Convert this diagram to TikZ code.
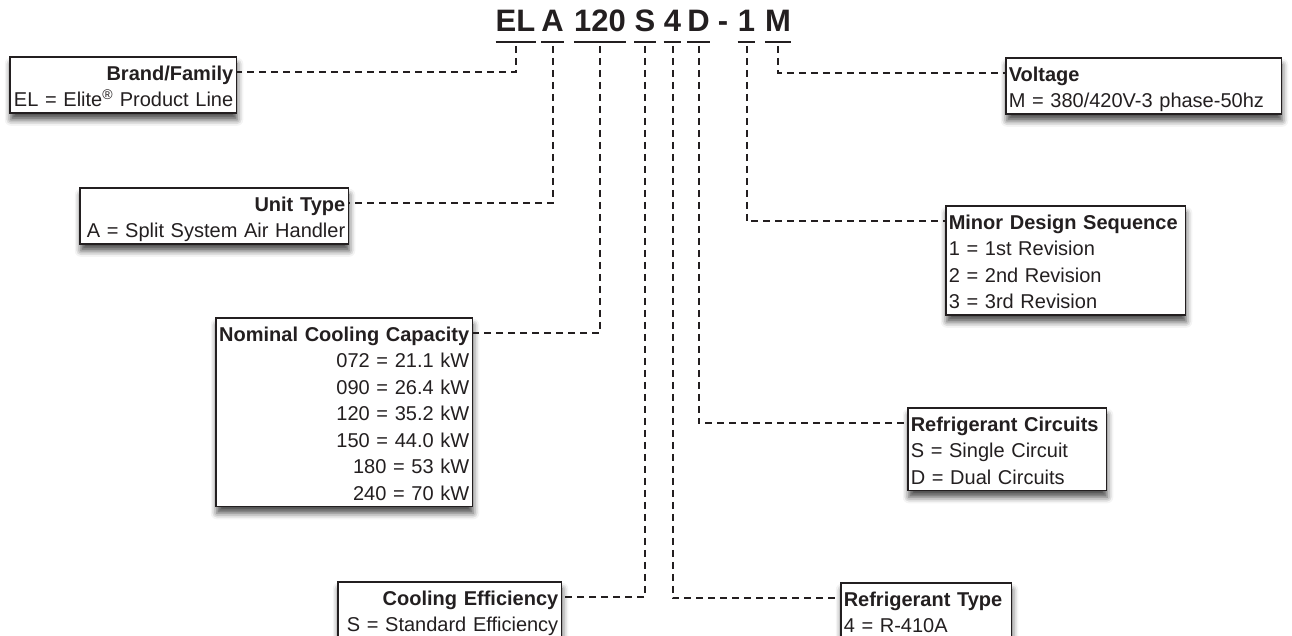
\documentclass[tikz,border=0pt]{standalone}
\usepackage{fontspec}
\setmainfont{Liberation Sans}
\usepackage{tikz}
\usetikzlibrary{positioning, calc, shadows.blur}

\definecolor{inkgray}{RGB}{35,31,32}

% strut for one line of a key box, and the bold title of a box
\newcommand{\ks}{\rule[-4.5pt]{0pt}{26.5pt}}
\newcommand{\kt}[1]{\ks\textbf{#1}}

\tikzset{
    keybox/.style={draw=inkgray, line width=1.5pt, fill=white, text=inkgray,
        inner xsep=3pt, inner ysep=1.5pt, anchor=north west,
        font=\fontsize{20}{26.5}\selectfont,
        blur shadow={shadow xshift=1pt, shadow yshift=-7pt,
            shadow blur radius=6pt, shadow opacity=70}},
    leftbox/.style={keybox, align=right},
    rightbox/.style={keybox, align=left},
    codechar/.style={anchor=base, inner sep=0pt, text depth=10pt, text=inkgray,
        font=\fontsize{31}{31}\selectfont\bfseries},
    leader/.style={inkgray, line width=2pt, dash pattern=on 7pt off 5pt,
        shorten <=4pt}
}

\begin{document}
\begin{tikzpicture}[x=1pt, y=-1pt]
    \useasboundingbox (0,0) rectangle (1292,635);

    % model number
    \foreach \n/\x in {EL/515.5, A/552.5, 120/600, S/645, 4/672.5, D/698.5, 1/746.5, M/778}
    {
        \node[codechar] (c\n) at (\x,31.7) {\n};
        \draw[inkgray, line width=2pt] (c\n.south west) -- (c\n.south east);
    }
    \node[codechar] (cdash) at (723,31.7) {-};

    % left side boxes
    \node[leftbox, text width=220.5pt] (brand) at (9,56)
        {\kt{Brand/Family}\\
         \ks EL = Elite\textsuperscript{®} Product Line};
    \node[leftbox, text width=262.5pt] (unit) at (79,187)
        {\kt{Unit Type}\\
         \ks A = Split System Air Handler};
    \node[leftbox, text width=250.5pt] (nominal) at (215,317)
        {\kt{Nominal Cooling Capacity}\\
         \ks 072 = 21.1 kW\\
         \ks 090 = 26.4 kW\\
         \ks 120 = 35.2 kW\\
         \ks 150 = 44.0 kW\\
         \ks 180 = 53 kW\\
         \ks 240 = 70 kW};
    \node[leftbox, text width=217.5pt] (cooling) at (337,581)
        {\kt{Cooling Efficiency}\\
         \ks S = Standard Efficiency};

    % right side boxes
    \node[rightbox, text width=269.5pt] (voltage) at (1005,57)
        {\kt{Voltage}\\
         \ks M = 380/420V-3 phase-50hz};
    \node[rightbox, text width=233.5pt] (minor) at (945,205)
        {\kt{Minor Design Sequence}\\
         \ks 1 = 1st Revision\\
         \ks 2 = 2nd Revision\\
         \ks 3 = 3rd Revision};
    \node[rightbox, text width=192.5pt] (circuits) at (907,407)
        {\kt{Refrigerant Circuits}\\
         \ks S = Single Circuit\\
         \ks D = Dual Circuits};
    \node[rightbox, text width=164.5pt] (refrig) at (840,582)
        {\kt{Refrigerant Type}\\
         \ks 4 = R-410A};

    % title rows of the boxes
    \foreach \b in {brand, unit, nominal, cooling}
        \coordinate (\b T) at ([yshift=-16pt]\b.north east);
    \foreach \b in {voltage, minor, circuits, refrig}
        \coordinate (\b T) at ([yshift=-16pt]\b.north west);

    % leaders
    \foreach \n/\b in {EL/brand, A/unit, 120/nominal, S/cooling,
                       4/refrig, D/circuits, 1/minor, M/voltage}
    {
        \draw[leader] (c\n.south) |- (\b T);
    }
\end{tikzpicture}
\end{document}
